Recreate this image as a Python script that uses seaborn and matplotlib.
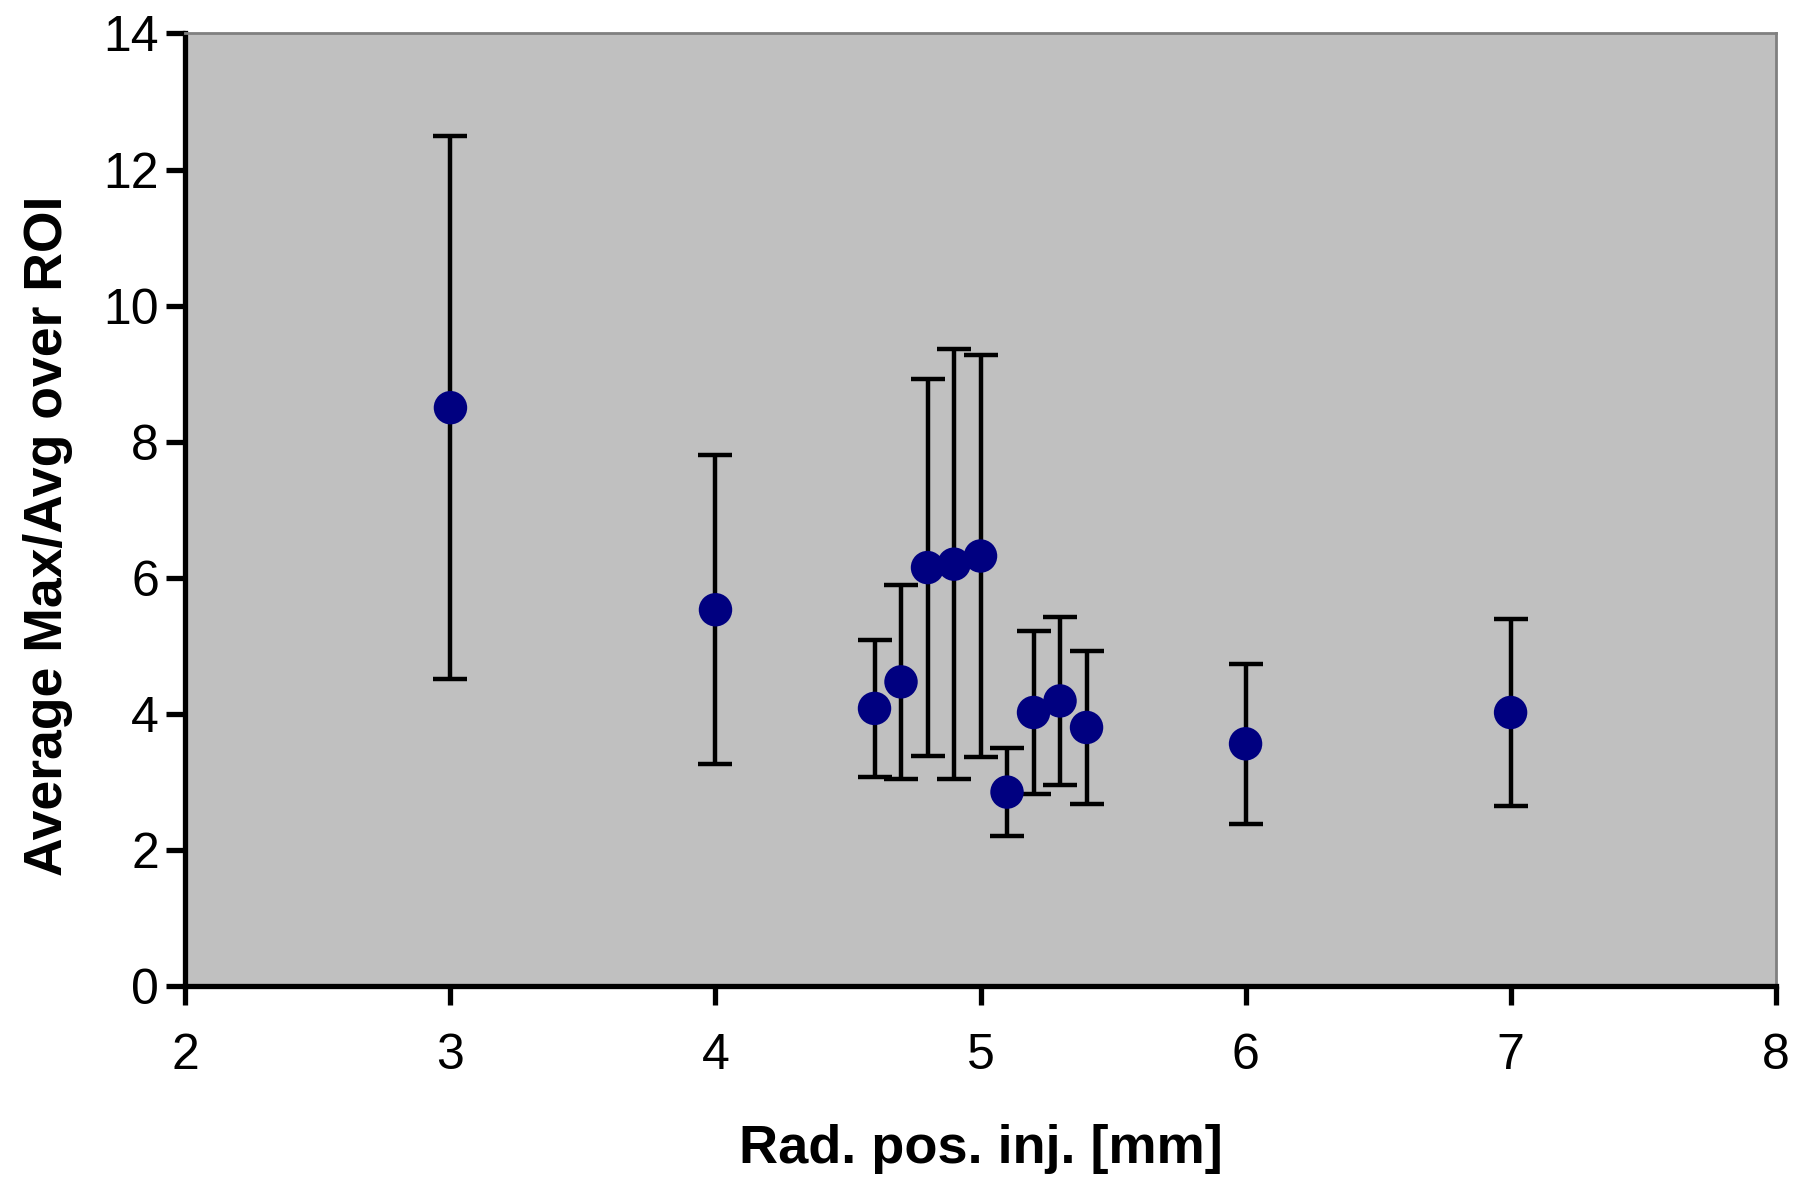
import pandas as pd
import seaborn as sns
import numpy as np
import matplotlib
matplotlib.use('Agg')
import matplotlib.pyplot as plt

# data
rad_pos = [3.0, 4.0, 4.6, 4.7, 4.8, 4.9, 5.0, 5.1, 5.2, 5.3, 5.4, 6.0, 7.0]
max_avg = [8.50, 5.53, 4.08, 4.47, 6.15, 6.20, 6.32, 2.85, 4.02, 4.19, 3.80, 3.56, 4.02]
err = [3.99, 2.27, 1.01, 1.43, 2.77, 3.16, 2.96, 0.65, 1.20, 1.23, 1.12, 1.18, 1.37]

df = pd.DataFrame({'Rad': rad_pos, 'Val': max_avg, 'Err': err})

sns.set_style('white')
plt.rcParams['font.family'] = ['Liberation Sans', 'DejaVu Sans']
plt.rcParams['text.color'] = 'black'
plt.rcParams['axes.labelcolor'] = 'black'
plt.rcParams['xtick.color'] = 'black'
plt.rcParams['ytick.color'] = 'black'

fig = plt.figure(figsize=(17.95, 11.79), dpi=100)
ax = fig.add_axes([0.1033, 0.1637, 0.8859, 0.8079])
ax.set_facecolor('#C0C0C0')

ax.errorbar(df['Rad'], df['Val'], yerr=df['Err'], fmt='none', ecolor='black',
            elinewidth=3.2, capsize=12, capthick=3.2, zorder=2)
sns.scatterplot(data=df, x='Rad', y='Val', ax=ax, color='#000080', s=580,
                edgecolor='none', zorder=3)

ax.set_xlim(2, 8)
ax.set_ylim(0, 14)
ax.set_xticks(range(2, 9))
ax.set_yticks(range(0, 15, 2))

for side in ['left', 'bottom']:
    ax.spines[side].set_color('black')
    ax.spines[side].set_linewidth(3.8)
for side in ['top', 'right']:
    ax.spines[side].set_color('#808080')
    ax.spines[side].set_linewidth(2)

ax.tick_params(axis='both', direction='out', length=14, width=3.8,
               labelsize=36, bottom=True, left=True)
ax.tick_params(axis='x', pad=20)
ax.tick_params(axis='y', pad=5)

ax.set_xlabel('Rad. pos. inj. [mm]', fontsize=39, fontweight='bold', labelpad=32)
ax.set_ylabel('Average Max/Avg over ROI', fontsize=38.5, fontweight='bold',
              labelpad=22, y=0.473)

plt.savefig('out.png', dpi=100)
